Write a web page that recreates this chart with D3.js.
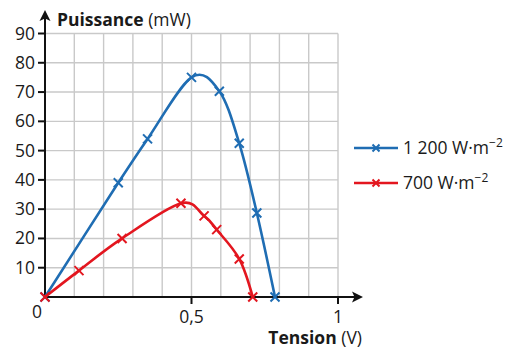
<!DOCTYPE html>
<html>
<head>
<meta charset="utf-8">
<script src="https://cdn.jsdelivr.net/npm/d3@7"></script>
<style>
  body { margin: 0; background: #fff; }
  text { font-family: "Open Sans", "Noto Sans", sans-serif; fill: #1a1a1a; }
</style>
</head>
<body>
<div id="chart"></div>
<script>
// data
var tension1200 = [0, 0.25, 0.35, 0.50, 0.595, 0.663, 0.723, 0.785];
var puissance1200 = [0, 39, 54, 75, 70.3, 52.5, 28.7, 0];
var tension700 = [0, 0.116, 0.263, 0.464, 0.543, 0.586, 0.663, 0.709];
var puissance700 = [0, 9, 20, 32, 27.7, 23, 13, 0];
var seriesNames = ["1 200 W\u00b7m", "700 W\u00b7m"];
var yTicks = [10, 20, 30, 40, 50, 60, 70, 80, 90];
var xTickLabels = ["0,5", "1"];

var width = 511, height = 350;

var svg = d3.select("#chart")
  .append("svg")
    .attr("width", width)
    .attr("height", height);

var x = d3.scaleLinear().domain([0, 1]).range([45, 338]);
var y = d3.scaleLinear().domain([0, 90]).range([297, 33.5]);

// grid
var grid = svg.append("g").attr("stroke", "#c9c9c9").attr("stroke-width", 1.4);
grid.selectAll("line.v")
  .data(d3.range(1, 11).map(function (i) { return i / 10; }))
  .enter().append("line")
    .attr("x1", function (d) { return x(d); })
    .attr("x2", function (d) { return x(d); })
    .attr("y1", y(90))
    .attr("y2", y(0));
grid.selectAll("line.h")
  .data(yTicks)
  .enter().append("line")
    .attr("x1", x(0))
    .attr("x2", x(1))
    .attr("y1", function (d) { return y(d); })
    .attr("y2", function (d) { return y(d); });

// axes
var axes = svg.append("g").attr("stroke", "#111").attr("stroke-width", 2);
axes.append("line").attr("x1", x(0)).attr("x2", 355).attr("y1", y(0)).attr("y2", y(0));
axes.append("line").attr("x1", x(0)).attr("x2", x(0)).attr("y1", y(0)).attr("y2", 18);
svg.append("path").attr("d", "M363,297 L352,291.5 L354.5,297 L352,302.5 Z").attr("fill", "#111");
svg.append("path").attr("d", "M45,10 L39.5,21 L45,18.5 L50.5,21 Z").attr("fill", "#111");

// y ticks
axes.selectAll("line.yt")
  .data(yTicks)
  .enter().append("line")
    .attr("x1", x(0) - 7)
    .attr("x2", x(0))
    .attr("y1", function (d) { return y(d); })
    .attr("y2", function (d) { return y(d); });
svg.selectAll("text.yl")
  .data(yTicks)
  .enter().append("text")
    .attr("x", 35)
    .attr("y", function (d) { return y(d) + 6; })
    .attr("text-anchor", "end")
    .attr("font-size", 17.5)
    .text(function (d) { return d; });

// x ticks
axes.selectAll("line.xt")
  .data([0.5, 1])
  .enter().append("line")
    .attr("x1", function (d) { return x(d); })
    .attr("x2", function (d) { return x(d); })
    .attr("y1", y(0))
    .attr("y2", y(0) + 7);
svg.selectAll("text.xl")
  .data([0.5, 1])
  .enter().append("text")
    .attr("x", function (d) { return x(d); })
    .attr("y", 323)
    .attr("text-anchor", "middle")
    .attr("font-size", 17.5)
    .text(function (d, i) { return xTickLabels[i]; });
svg.append("text").attr("x", 37).attr("y", 318).attr("text-anchor", "middle")
  .attr("font-size", 17.5).text("0");

// axis titles
var t1 = svg.append("text").attr("x", 57).attr("y", 26).attr("font-size", 17.5);
t1.append("tspan").attr("font-weight", "bold").text("Puissance");
t1.append("tspan").text(" (mW)");
var t2 = svg.append("text").attr("x", 362).attr("y", 344).attr("text-anchor", "end").attr("font-size", 17.5);
t2.append("tspan").attr("font-weight", "bold").text("Tension");
t2.append("tspan").text(" (V)");

// curves
var series = [
  {name: seriesNames[0], color: "#1f6db3", xs: tension1200, ys: puissance1200},
  {name: seriesNames[1], color: "#e3161f", xs: tension700, ys: puissance700}
];

var line = d3.line()
  .x(function (d) { return x(d[0]); })
  .y(function (d) { return y(d[1]); })
  .curve(d3.curveCardinal.tension(0));

function cross(g, cx, cy, r) {
  g.append("path").attr("d",
    "M" + (cx - r) + "," + (cy - r) + "L" + (cx + r) + "," + (cy + r) +
    "M" + (cx - r) + "," + (cy + r) + "L" + (cx + r) + "," + (cy - r));
}

series.forEach(function (s) {
  var pts = s.xs.map(function (v, i) { return [v, s.ys[i]]; });
  svg.append("path")
    .attr("d", line(pts))
    .attr("fill", "none")
    .attr("stroke", s.color)
    .attr("stroke-width", 2.6);
  var g = svg.append("g").attr("stroke", s.color).attr("stroke-width", 2);
  pts.forEach(function (p) { cross(g, x(p[0]), y(p[1]), 4.5); });
});

// legend
series.forEach(function (s, i) {
  var ly = 148 + i * 35;
  var g = svg.append("g");
  g.append("line").attr("x1", 354).attr("x2", 398).attr("y1", ly).attr("y2", ly)
    .attr("stroke", s.color).attr("stroke-width", 2.6);
  var gc = g.append("g").attr("stroke", s.color).attr("stroke-width", 2);
  cross(gc, 376, ly, 3.5);
  var t = g.append("text").attr("x", 403).attr("y", ly + 6).attr("font-size", 17.5);
  t.append("tspan").text(s.name);
  t.append("tspan").attr("dy", -7).attr("font-size", 12).text("\u22122");
});
</script>
</body>
</html>
